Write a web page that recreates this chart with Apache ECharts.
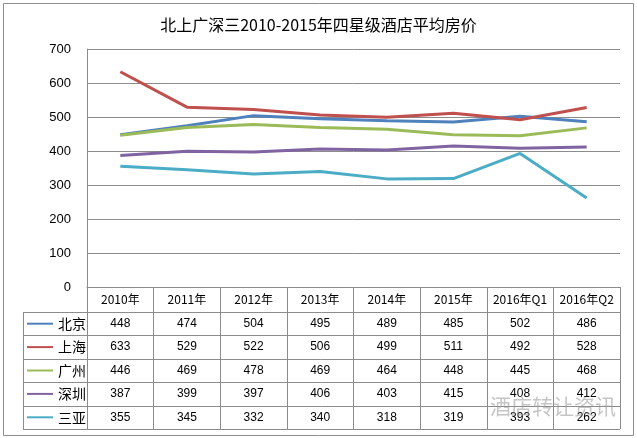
<!DOCTYPE html>
<html lang="zh">
<head>
    <meta charset="UTF-8">
    <title>四星级酒店平均房价</title>
    <style>
        html, body { margin: 0; padding: 0; background: #fff; }
    </style>
</head>
<body>
<div id="main" style="width: 637px;height:438px;"></div>

<script src="https://cdn.jsdelivr.net/npm/echarts@6/dist/echarts.min.js"></script>
<script>
    // 数据
    var categories = ['2010年', '2011年', '2012年', '2013年', '2014年', '2015年', '2016年Q1', '2016年Q2'];
    var cityNames = ['北京', '上海', '广州', '深圳', '三亚'];
    var beijing = [448, 474, 504, 495, 489, 485, 502, 486];
    var shanghai = [633, 529, 522, 506, 499, 511, 492, 528];
    var guangzhou = [446, 469, 478, 469, 464, 448, 445, 468];
    var shenzhen = [387, 399, 397, 406, 403, 415, 408, 412];
    var sanya = [355, 345, 332, 340, 318, 319, 393, 262];
    var yTicks = [0, 100, 200, 300, 400, 500, 600, 700];

    var allValues = [beijing, shanghai, guangzhou, shenzhen, sanya];
    var colors = ['#4f81bd', '#c0504d', '#9bbb59', '#8064a2', '#4bacc6'];
    var gridColor = '#8c8c8c';
    var rowH = 23.4;

    var chart = echarts.init(document.getElementById('main'));

    // 表格横线
    var rowLines = [];
    for (var i = 0; i <= cityNames.length; i++) {
        var y = Math.round(312 + i * rowH) + 0.5;
        rowLines.push({
            type: 'line',
            shape: {x1: 23, y1: y, x2: 620, y2: y},
            style: {stroke: gridColor, lineWidth: 1}
        });
    }

    var series = [];
    for (var s = 0; s < cityNames.length; s++) {
        series.push({
            name: cityNames[s],
            type: 'line',
            data: allValues[s],
            symbol: 'none',
            lineStyle: {width: 3, color: colors[s]},
            itemStyle: {color: colors[s]}
        });
    }

    chart.setOption({
        backgroundColor: '#fff',
        animation: false,
        color: colors,
        title: {
            text: '北上广深三2010-2015年四星级酒店平均房价',
            left: 'center',
            top: 12,
            textStyle: {
                fontFamily: 'Noto Sans CJK SC',
                fontSize: 16,
                fontWeight: 'normal',
                color: '#000'
            }
        },
        legend: {
            orient: 'vertical',
            left: 27,
            top: 312,
            padding: 0,
            itemGap: 0,
            itemWidth: 26,
            itemHeight: 2,
            icon: 'rect',
            selectedMode: false,
            textStyle: {
                fontFamily: 'Noto Sans CJK SC',
                fontSize: 14,
                color: '#000',
                lineHeight: rowH,
                height: rowH
            },
            data: cityNames
        },
        grid: {
            left: 87,
            right: 17,
            top: 49,
            bottom: 151,
            containLabel: false
        },
        xAxis: {
            type: 'category',
            data: categories,
            boundaryGap: true,
            axisLine: {lineStyle: {color: gridColor, width: 1}},
            axisTick: {
                show: true,
                interval: 0,
                length: 142,
                lineStyle: {color: gridColor, width: 1}
            },
            axisLabel: {
                interval: 0,
                margin: 0,
                verticalAlign: 'top',
                formatter: function (value, idx) {
                    var out = '{h|' + value + '}';
                    for (var k = 0; k < allValues.length; k++) {
                        out += '\n{v|' + allValues[k][idx] + '}';
                    }
                    return out;
                },
                rich: {
                    h: {
                        fontFamily: 'Noto Sans CJK SC',
                        fontSize: 12,
                        color: '#000',
                        lineHeight: 25,
                        height: 25
                    },
                    v: {
                        fontFamily: 'Liberation Sans',
                        fontSize: 12,
                        color: '#000',
                        lineHeight: rowH,
                        height: rowH
                    }
                }
            }
        },
        yAxis: {
            type: 'value',
            min: yTicks[0],
            max: yTicks[yTicks.length - 1],
            interval: 100,
            axisLine: {show: true, lineStyle: {color: gridColor, width: 1}},
            axisTick: {show: false},
            splitLine: {lineStyle: {color: gridColor, width: 1}},
            axisLabel: {
                margin: 16,
                fontFamily: 'Liberation Sans',
                fontSize: 13,
                color: '#000'
            }
        },
        graphic: [
            {
                type: 'rect',
                shape: {x: 3.5, y: 3.5, width: 630, height: 432},
                style: {fill: 'none', stroke: gridColor, lineWidth: 1},
                z: -1
            },
            {
                type: 'line',
                shape: {x1: 23.5, y1: 312, x2: 23.5, y2: 429},
                style: {stroke: gridColor, lineWidth: 1}
            },
            {
                type: 'text',
                left: 490,
                top: 396,
                style: {
                    text: '酒店转让资讯',
                    font: '21px "Noto Sans CJK SC"',
                    fill: 'rgba(150,150,150,0.55)'
                },
                z: 100
            }
        ].concat(rowLines),
        series: series
    });
</script>
</body>
</html>
